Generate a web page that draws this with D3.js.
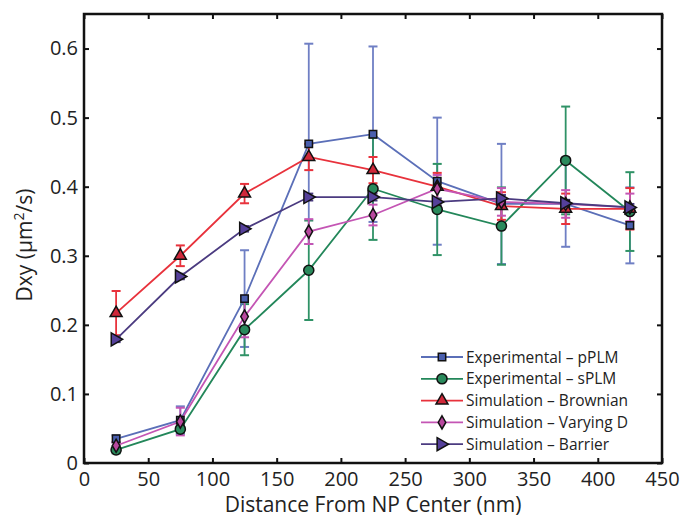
<!DOCTYPE html>
<html><head><meta charset="utf-8">
<script src="https://cdn.jsdelivr.net/npm/d3@7"></script>
<style>body{margin:0;background:#fff}svg{display:block}text{font-family:"Open Sans",Lato,sans-serif;fill:#222}</style>
</head><body>
<svg id="c" width="686" height="519"></svg>
<script>
const distances = [25, 75, 125, 175, 225, 275, 325, 375, 425];
const seriesNames = ["Experimental \u2013 pPLM","Experimental \u2013 sPLM","Simulation \u2013 Brownian","Simulation \u2013 Varying D","Simulation \u2013 Barrier"];
const pPLM = [0.035, 0.062, 0.238, 0.462, 0.476, 0.408, 0.375, 0.375, 0.344];
const pPLMErr = [0.005, 0.02, 0.07, 0.145, 0.127, 0.092, 0.087, 0.062, 0.055];
const sPLM = [0.019, 0.049, 0.193, 0.279, 0.397, 0.367, 0.343, 0.438, 0.364];
const sPLMErr = [0.005, 0.005, 0.037, 0.072, 0.074, 0.066, 0.056, 0.078, 0.057];
const brownian = [0.217, 0.300, 0.390, 0.443, 0.424, 0.400, 0.372, 0.368, 0.368];
const brownianErr = [0.032, 0.015, 0.014, 0.019, 0.019, 0.02, 0.02, 0.022, 0.03];
const varyingD = [0.025, 0.060, 0.212, 0.335, 0.359, 0.397, 0.378, 0.375, 0.370];
const varyingDErr = [0.005, 0.02, 0.03, 0.018, 0.015, 0.02, 0.02, 0.02, 0.02];
const barrier = [0.179, 0.270, 0.339, 0.385, 0.385, 0.378, 0.383, 0.376, 0.370];
const barrierErr = [0.004, 0.004, 0.004, 0.005, 0.005, 0.005, 0.005, 0.005, 0.005];
const xTicks = [0, 50, 100, 150, 200, 250, 300, 350, 400, 450];
const yTicks = [0, 0.1, 0.2, 0.3, 0.4, 0.5, 0.6];

const styles = [
  {line:"#5b6fb8", fill:"#4a5fae", err:"#6f7fc4", sym:d3.symbolSquare, size:55},
  {line:"#23875a", fill:"#2a8a5c", err:"#2f9266", sym:d3.symbolCircle, size:80},
  {line:"#e8323c", fill:"#d0283a", err:"#e8323c", sym:d3.symbolTriangle, size:62},
  {line:"#c455b4", fill:"#b8489e", err:"#c455b4", sym:d3.symbolDiamond, size:50},
  {line:"#4b3b80", fill:"#55409a", err:"#4b3b80", sym:"right", size:70}
];
const series = [
  {vals:pPLM, err:pPLMErr},{vals:sPLM, err:sPLMErr},{vals:brownian, err:brownianErr},
  {vals:varyingD, err:varyingDErr},{vals:barrier, err:barrierErr}
];

const L=84, R=662, T=14, B=463;
const x = d3.scaleLinear().domain([0,450]).range([L,R]);
const y = d3.scaleLinear().domain([0,0.65]).range([B,T]);
const svg = d3.select("#c");

function marker(g, st, cx, cy){
  if(st.sym==="right"){
    const s=6.5;
    g.append("path").attr("d",`M${cx-s*0.75},${cy-s}L${cx+s},${cy}L${cx-s*0.75},${cy+s}Z`)
      .attr("fill",st.fill).attr("stroke","#111").attr("stroke-width",1.5);
  } else {
    g.append("path").attr("d",d3.symbol().type(st.sym).size(st.size)())
      .attr("transform",`translate(${cx},${cy})`)
      .attr("fill",st.fill).attr("stroke","#111").attr("stroke-width",1.5);
  }
}

// error bars
series.forEach((s,i)=>{
  const st=styles[i]; const g=svg.append("g");
  distances.forEach((d,j)=>{
    const lo=y(s.vals[j]-s.err[j]), hi=y(s.vals[j]+s.err[j]), cx=x(d);
    g.append("line").attr("x1",cx).attr("x2",cx).attr("y1",lo).attr("y2",hi).attr("stroke",st.err).attr("stroke-width",1.8);
    [lo,hi].forEach(v=>g.append("line").attr("x1",cx-4.5).attr("x2",cx+4.5).attr("y1",v).attr("y2",v).attr("stroke",st.err).attr("stroke-width",2));
  });
});
// lines
series.forEach((s,i)=>{
  const st=styles[i];
  svg.append("path").datum(s.vals)
    .attr("d",d3.line().x((v,j)=>x(distances[j])).y(v=>y(v)))
    .attr("fill","none").attr("stroke",st.line).attr("stroke-width",1.8);
});
// markers
series.forEach((s,i)=>{
  const g=svg.append("g");
  s.vals.forEach((v,j)=>marker(g,styles[i],x(distances[j]),y(v)));
});

// frame and axes
const ax = svg.append("g");
ax.append("g").attr("transform",`translate(0,${B})`)
  .call(d3.axisBottom(x).tickValues(xTicks).tickSize(-5).tickPadding(9).tickFormat(d3.format("d")))
  .call(g=>{g.select(".domain").remove();g.selectAll("text").attr("font-size",20).attr("fill","#222");g.selectAll("line").attr("stroke","#111").attr("stroke-width",2);});
ax.append("g").attr("transform",`translate(0,${T})`)
  .call(d3.axisTop(x).tickValues(xTicks).tickSize(-5).tickFormat(""))
  .call(g=>{g.select(".domain").remove();g.selectAll("line").attr("stroke","#111").attr("stroke-width",2);});
ax.append("g").attr("transform",`translate(${L},0)`)
  .call(d3.axisLeft(y).tickValues(yTicks).tickSize(-5).tickPadding(6).tickFormat(d=>d===0?"0":d3.format(".1f")(d)))
  .call(g=>{g.select(".domain").remove();g.selectAll("text").attr("font-size",20).attr("fill","#222");g.selectAll("line").attr("stroke","#111").attr("stroke-width",2);});
ax.append("g").attr("transform",`translate(${R},0)`)
  .call(d3.axisRight(y).tickValues(yTicks).tickSize(-5).tickFormat(""))
  .call(g=>{g.select(".domain").remove();g.selectAll("line").attr("stroke","#111").attr("stroke-width",2);});
ax.append("rect").attr("x",L).attr("y",T).attr("width",R-L).attr("height",B-T)
  .attr("fill","none").attr("stroke","#111").attr("stroke-width",2.5);

// titles
svg.append("text").attr("x",(L+R)/2).attr("y",512).attr("text-anchor","middle").attr("font-size",21).text("Distance From NP Center (nm)");
const yl = svg.append("text").attr("transform",`translate(32,245) rotate(-90)`).attr("text-anchor","middle").attr("font-size",21);
yl.append("tspan").text("Dxy (\u03bcm");
yl.append("tspan").attr("dy",-8).attr("font-size",14).text("2");
yl.append("tspan").attr("dy",8).text("/s)");

// legend
const lg = svg.append("g");
seriesNames.forEach((n,i)=>{
  const yy=357+i*21.8, st=styles[i];
  lg.append("line").attr("x1",421).attr("x2",463).attr("y1",yy).attr("y2",yy).attr("stroke",st.line).attr("stroke-width",1.8);
  marker(lg,st,442,yy);
  lg.append("text").attr("x",466).attr("y",yy+5.5).attr("font-size",15.5).text(n);
});
</script>
</body></html>
